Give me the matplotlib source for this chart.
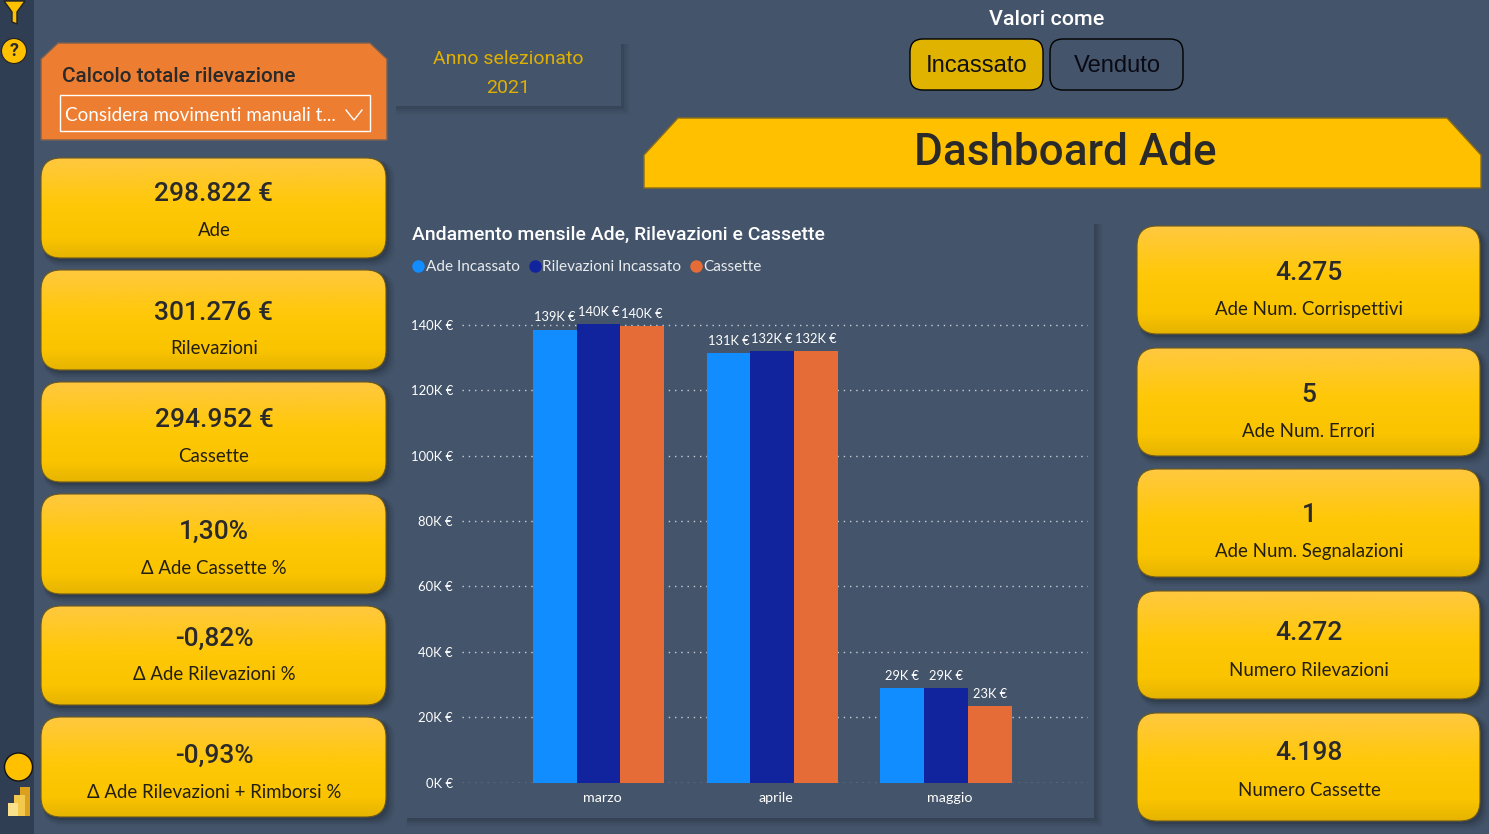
import numpy as np
import matplotlib
matplotlib.use("Agg")
import matplotlib.pyplot as plt
from matplotlib.patches import FancyBboxPatch, Polygon, Circle, Rectangle
from matplotlib.colors import LinearSegmentedColormap
from matplotlib.lines import Line2D

months = ["marzo", "aprile", "maggio"]
ade = [138.6, 131.4, 28.8]
rilevazioni = [140.3, 132.1, 28.9]
cassette = [139.7, 131.9, 23.35]
series_names = ["Ade Incassato", "Rilevazioni Incassato", "Cassette"]
y_ticks = [0, 20, 40, 60, 80, 100, 120, 140]

left_values = ["298.822 €", "301.276 €", "294.952 €", "1,30%", "-0,82%", "-0,93%"]
left_labels = ["Ade", "Rilevazioni", "Cassette", "Δ Ade Cassette %", "Δ Ade Rilevazioni %", "Δ Ade Rilevazioni + Rimborsi %"]
right_values = ["4.275", "5", "1", "4.272", "4.198"]
right_labels = ["Ade Num. Corrispettivi", "Ade Num. Errori", "Ade Num. Segnalazioni", "Numero Rilevazioni", "Numero Cassette"]

BG = "#44546a"
SIDE = "#2f3e52"
DARK = "#2b2a2a"
HEAD = "Roboto"
BODY = ["Lato", "DejaVu Sans"]
W, H = 1489, 834
fs = lambda px: px * 0.72

fig = plt.figure(figsize=(W / 100, H / 100), dpi=100, facecolor=BG)
bg = fig.add_axes([0, 0, 1, 1], zorder=0)
bg.set_xlim(0, W); bg.set_ylim(H, 0); bg.axis("off")

grad_cmap = LinearSegmentedColormap.from_list("g", [(0, "#ffc840"), (0.45, "#ffc808"), (0.8, "#fac400"), (1, "#e6b400")])
grad = np.linspace(0, 1, 128).reshape(-1, 1)

def shadow(x0, y0, x1, y1, r=0, z=1, k=1.0):
    for i, a in zip((9, 7, 5, 3), (0.02, 0.03, 0.04, 0.06)):
        if r:
            p = FancyBboxPatch((x0 + 2, y0 + 2), x1 - x0 + i - 2, y1 - y0 + i - 2,
                               boxstyle=f"round,pad=0,rounding_size={r}", fc="black", ec="none", alpha=a * k, zorder=z)
        else:
            p = Rectangle((x0 + 2, y0 + 2), x1 - x0 + i - 2, y1 - y0 + i - 2, fc="black", ec="none", alpha=a * k, zorder=z)
        bg.add_patch(p)

def card(x0, y0, x1, y1, value, label, vy, ly, vpx=26.4, lpx=18.7):
    shadow(x0, y0, x1, y1, r=20, z=1, k=1.8)
    im = bg.imshow(grad, extent=(x0, x1, y1, y0), cmap=grad_cmap, aspect="auto", zorder=2)
    clip = FancyBboxPatch((x0, y0), x1 - x0, y1 - y0, boxstyle="round,pad=0,rounding_size=20",
                          fc="none", ec="#6b5a20", lw=0.8, zorder=3)
    bg.add_patch(clip)
    im.set_clip_path(clip)
    cx = (x0 + x1) / 2 + 0.5
    bg.text(cx, vy, value, ha="center", va="center", fontsize=fs(vpx), family=HEAD, weight="medium", color=DARK, zorder=4)
    bg.text(cx, ly, label, ha="center", va="center", fontsize=fs(lpx), family=BODY, color="#231f10", zorder=4)

bg.add_patch(Rectangle((0, 0), 34, H, fc=SIDE, ec="none", zorder=1))

left_y = [(158, 258), (270, 370), (382, 482), (494, 594), (606, 705), (717, 817)]
left_vy = [193.5, 312.5, 419.5, 531.5, 638.5, 755.5]
left_ly = [230, 348, 456, 568, 675, 792]
for (a, b), v, l, vy, ly in zip(left_y, left_values, left_labels, left_vy, left_ly):
    card(41, a, 386, b, v, l, vy, ly)

right_y = [(226, 334), (348, 456), (469, 577), (591, 699), (713, 821)]
right_vy = [272.5, 394.5, 515.5, 633.5, 753.5]
right_ly = [309, 431, 551, 670, 790]
for (a, b), v, l, vy, ly in zip(right_y, right_values, right_labels, right_vy, right_ly):
    card(1137, a, 1480, b, v, l, vy, ly)

# slicer panel
bg.add_patch(Polygon([(41, 140), (41, 59), (58, 43), (370, 43), (387, 59), (387, 140)], closed=True,
                     fc="#ed7d31", ec="#7a6052", lw=1, zorder=2))
bg.text(62, 76, "Calcolo totale rilevazione", fontsize=fs(20.8), family=HEAD, weight="medium", color=DARK, va="center", zorder=4)
bg.add_patch(Rectangle((59.5, 94.5), 310, 36, fc="none", ec="white", lw=1, zorder=4))
bg.text(65, 115, "Considera movimenti manuali t...", fontsize=fs(18.9), family=BODY, color="white", va="center", zorder=4)
bg.add_line(Line2D([346, 354, 362], [110, 120, 110], color="white", lw=1, zorder=4))

# year panel
shadow(394, 42, 621, 106, z=1)
bg.add_patch(Rectangle((394, 42), 227, 64, fc=BG, ec="none", zorder=2))
bg.text(508, 58.5, "Anno selezionato", fontsize=fs(19.5), family=HEAD, color="#e0b000", ha="center", va="center", zorder=4)
bg.text(508, 88, "2021", fontsize=fs(19.5), family=HEAD, color="#e0b000", ha="center", va="center", zorder=4)

# toggle
bg.text(1047, 19, "Valori come", fontsize=fs(21.5), family=HEAD, weight="medium", color="white", ha="center", va="center", zorder=4)
bg.add_patch(FancyBboxPatch((910, 39), 133, 51, boxstyle="round,pad=0,rounding_size=13", fc="#dfb300", ec="black", lw=1, zorder=3))
bg.add_patch(FancyBboxPatch((1050, 39), 133, 51, boxstyle="round,pad=0,rounding_size=13", fc=BG, ec="black", lw=1, zorder=3))
bg.text(977, 65.5, "Incassato", fontsize=fs(23.8), family="Liberation Sans", color="#111111", ha="center", va="center", zorder=4)
bg.text(1117, 65.5, "Venduto", fontsize=fs(23.8), family="Liberation Sans", color="#0a0a14", ha="center", va="center", zorder=4)

# title banner
bg.add_patch(Polygon([(644, 188), (644, 155), (678, 118), (1447, 118), (1481, 155), (1481, 188)], closed=True,
                     fc="#ffc000", ec="#8a6d1a", lw=1, zorder=2))
bg.text(1065, 153, "Dashboard Ade", fontsize=fs(44), family=HEAD, weight="medium", color=DARK, ha="center", va="center", zorder=4)

# chart panel
shadow(405, 222, 1094, 818, z=1, k=1.3)
bg.add_patch(Rectangle((405, 222), 689, 596, fc=BG, ec="none", zorder=2))
bg.text(412, 235, "Andamento mensile Ade, Rilevazioni e Cassette", fontsize=fs(19.4), family=HEAD, weight="medium", color="white", va="center", zorder=4)

# sidebar icons
bg.add_patch(Polygon([(4, 1), (25, 1), (17, 12), (17, 24), (12, 22), (12, 12)], closed=True, fc="#ffc000", ec="#222222", lw=1, zorder=4))
bg.add_patch(Circle((14, 51), 12.5, fc="#ffc000", ec="#222222", lw=0.8, zorder=4))
bg.text(14, 51, "?", fontsize=fs(18), family=HEAD, weight="bold", color=DARK, ha="center", va="center", zorder=5)
bg.add_patch(Circle((18.5, 767), 14, fc="#ffc000", ec="#111111", lw=1, zorder=4))
bg.add_patch(Rectangle((20, 787), 10, 29, fc="#dba01e", ec="none", zorder=4))
bg.add_patch(Rectangle((14, 795), 11, 21, fc="#f2c94c", ec="none", zorder=5))
bg.add_patch(Rectangle((8, 803), 10, 13, fc="#f9e08a", ec="none", zorder=6))

# bar chart
px_left, px_right, px_top, px_bottom = 462, 1088, 300, 782.5
ax = fig.add_axes([px_left / W, 1 - px_bottom / H, (px_right - px_left) / W, (px_bottom - px_top) / H], zorder=5)
ax.patch.set_alpha(0)
x_step = 173.75
group0 = 598.5
ax.set_xlim((px_left - group0) / x_step, (px_right - group0) / x_step)
ax.set_ylim(0, (px_bottom - px_top) / 3.268)
for s in ax.spines.values():
    s.set_visible(False)
x = np.arange(len(months))
bw = 43.7 / x_step
colors = ["#118dff", "#12239e", "#e66c37"]
for i, (vals, c, name) in enumerate(zip([ade, rilevazioni, cassette], colors, series_names)):
    bars = ax.bar(x + (i - 1) * bw, vals, bw, color=c, label=name, zorder=3)
    ax.bar_label(bars, labels=[f"{v:.0f}K €" for v in vals], padding=4.5, fontsize=fs(12.9),
                 family=BODY, color="white", zorder=4)
ax.set_yticks(y_ticks, [f"{v}K €" for v in y_ticks])
ax.set_xticks(x + 3.5 / x_step, months)
ax.tick_params(axis="both", length=0, colors="white", labelsize=fs(13), labelfontfamily="Lato")
ax.tick_params(axis="y", pad=6.5)
ax.tick_params(axis="x", pad=6.5)
for lab in ax.get_xticklabels():
    lab.set_fontsize(fs(14.2))
ax.grid(axis="y", color="#c8ced6", lw=1, linestyle=(0, (1, 3.5)), zorder=0)
ax.set_axisbelow(True)

handles = [Line2D([], [], marker="o", ls="", ms=9, mfc=c, mec="none") for c in colors]
fig.legend(handles, series_names, loc="center left", bbox_to_anchor=(410 / W, 1 - 267 / H), ncol=3, frameon=False,
           handletextpad=-0.05, columnspacing=0.4, borderpad=0, borderaxespad=0, handlelength=1.1,
           prop={"family": BODY, "size": fs(15.4)}, labelcolor="#e8ebee")

fig.savefig("out.png", dpi=100, facecolor=BG)
